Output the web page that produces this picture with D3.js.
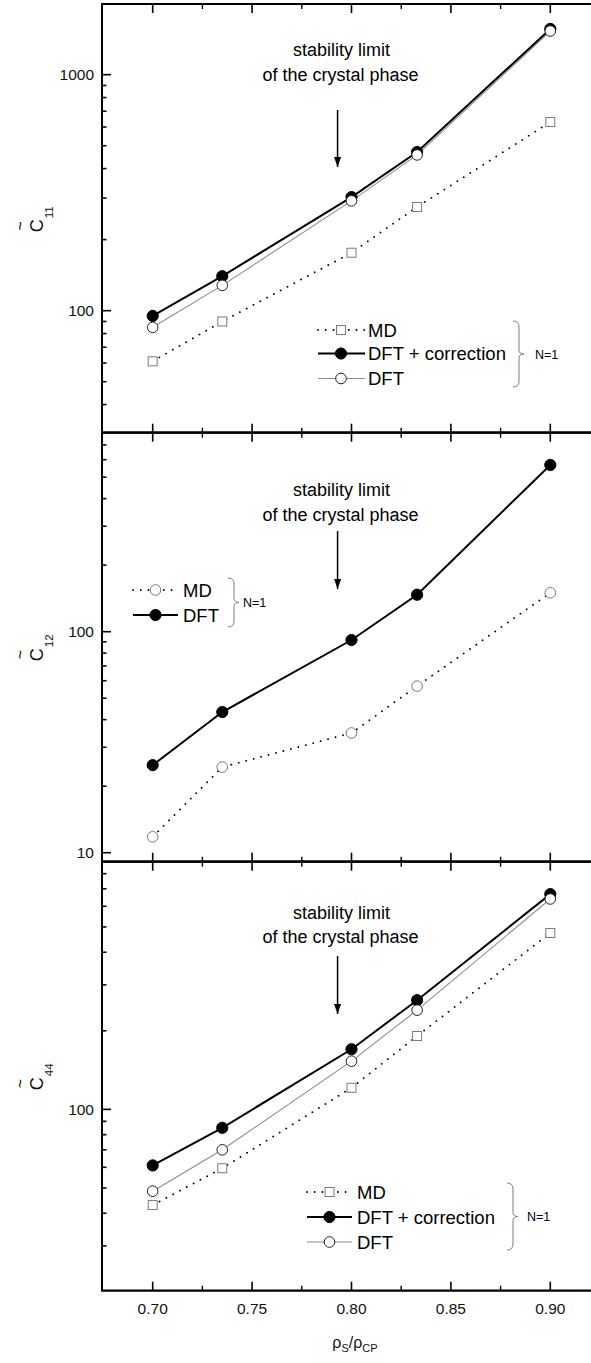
<!DOCTYPE html>
<html>
<head>
<meta charset="utf-8">
<script src="https://cdn.jsdelivr.net/npm/d3@7"></script>
<style>
  html, body { margin: 0; padding: 0; background: #fff; }
  svg { display: block; font-family: Arial, "Liberation Sans", sans-serif; }
</style>
</head>
<body>
<svg id="chart" width="591" height="1363"></svg>
<script>
// Reduced solid density rho_S / rho_CP
const densities = [0.70, 0.735, 0.80, 0.833, 0.90];

// Elastic constant C11
const c11MD      = [61, 90, 176, 275, 630];
const c11DFTcorr = [95, 140, 303, 470, 1563];
const c11DFT     = [85, 128, 292, 457, 1531];

// Elastic constant C12
const c12MD  = [11.8, 24.4, 34.8, 56.7, 150];
const c12DFT = [24.9, 43.3, 91.7, 147, 568];

// Elastic constant C44
const c44MD      = [43, 59.5, 121, 191, 474];
const c44DFTcorr = [61, 85, 170, 262, 668];
const c44DFT     = [48.6, 70, 153, 240, 640];

// Axis tick labels
const xTickLabels = ["0.70", "0.75", "0.80", "0.85", "0.90"];
const c11TickLabels = ["100", "1000"];
const c12TickLabels = ["10", "100"];
const c44TickLabels = ["100"];

// Density of the stability limit of the crystal phase
const stabilityLimit = 0.793;

const svg = d3.select("#chart");

const left = 102, right = 600;
const x = d3.scaleLinear().domain([0.6745, 0.925]).range([left, right]);

const lineGen = (xs, ys, yScale) =>
  d3.line().x((d, i) => x(xs[i])).y(d => yScale(d))(ys);

const GREY = "#7a7a7a";

// Marker drawing helpers
function marker(g, kind, cx, cy) {
  if (kind === "square") {
    g.append("rect").attr("x", cx - 4.5).attr("y", cy - 4.5)
      .attr("width", 9).attr("height", 9)
      .attr("fill", "#fff").attr("stroke", GREY).attr("stroke-width", 1);
  } else if (kind === "filled") {
    g.append("circle").attr("cx", cx).attr("cy", cy).attr("r", 5.6)
      .attr("fill", "#000").attr("stroke", "#000");
  } else if (kind === "open") {
    g.append("circle").attr("cx", cx).attr("cy", cy).attr("r", 5.3)
      .attr("fill", "#fff").attr("stroke", "#222").attr("stroke-width", 1);
  } else if (kind === "openGrey") {
    g.append("circle").attr("cx", cx).attr("cy", cy).attr("r", 5.3)
      .attr("fill", "#fff").attr("stroke", GREY).attr("stroke-width", 1);
  }
}

const lineStyles = {
  dotted: { stroke: "#000", width: 1.8, dash: "0.1,7.6", cap: "round" },
  solid:  { stroke: "#000", width: 2, dash: null, cap: "butt" },
  grey:   { stroke: "#8c8c8c", width: 1.1, dash: null, cap: "butt" }
};

function styleLine(sel, st) {
  sel.attr("fill", "none").attr("stroke", st.stroke)
    .attr("stroke-width", st.width).attr("stroke-linecap", st.cap);
  if (st.dash) sel.attr("stroke-dasharray", st.dash);
  return sel;
}

// Curly brace opening to the left, tip pointing right
function bracePath(bx, y1, y2, w) {
  const ym = (y1 + y2) / 2;
  return `M${bx},${y1} Q${bx + w},${y1} ${bx + w},${y1 + w} L${bx + w},${ym - 4}` +
    ` Q${bx + w},${ym} ${bx + w + 5},${ym} Q${bx + w},${ym} ${bx + w},${ym + 4}` +
    ` L${bx + w},${y2 - w} Q${bx + w},${y2} ${bx},${y2}`;
}

const panels = [
  {
    top: 4, bottom: 432.7, domain: [30.4, 1993], ticks: [100, 1000], tickLabels: c11TickLabels,
    sub: "11",
    series: [
      { values: c11MD, line: "dotted", mark: "square", name: "MD" },
      { values: c11DFTcorr, line: "solid", mark: "filled", name: "DFT + correction" },
      { values: c11DFT, line: "grey", mark: "open", name: "DFT" }
    ],
    lineOrder: [0, 2, 1],
    legend: { x0: 318, x1: 365, mx: 341, tx: 368, ys: [330, 353.5, 378.5], brace: [513, 321, 387], nx: 535 },
    note: { y1: 56, y2: 81, a0: 110, a1: 167 }
  },
  {
    top: 432.7, bottom: 861.7, domain: [9.105, 795], ticks: [10, 100], tickLabels: c12TickLabels,
    sub: "12",
    series: [
      { values: c12MD, line: "dotted", mark: "openGrey", name: "MD" },
      { values: c12DFT, line: "solid", mark: "filled", name: "DFT" }
    ],
    lineOrder: [0, 1],
    legend: { x0: 133, x1: 178, mx: 155.5, tx: 183, ys: [590, 615], brace: [228, 578, 627], nx: 243 },
    note: { y1: 496, y2: 521, a0: 531, a1: 589 }
  },
  {
    top: 861.7, bottom: 1290.7, domain: [20.2, 889], ticks: [100], tickLabels: c44TickLabels,
    sub: "44",
    series: [
      { values: c44MD, line: "dotted", mark: "square", name: "MD" },
      { values: c44DFTcorr, line: "solid", mark: "filled", name: "DFT + correction" },
      { values: c44DFT, line: "grey", mark: "open", name: "DFT" }
    ],
    lineOrder: [0, 2, 1],
    legend: { x0: 307, x1: 352, mx: 329.5, tx: 357, ys: [1192, 1217, 1242], brace: [507, 1183, 1250], nx: 527 },
    note: { y1: 919, y2: 943, a0: 956, a1: 1014 }
  }
];

// Arrowhead definition
svg.append("defs").append("marker")
  .attr("id", "head").attr("viewBox", "0 0 10 10")
  .attr("refX", 10).attr("refY", 5)
  .attr("markerWidth", 10).attr("markerHeight", 10)
  .attr("markerUnits", "userSpaceOnUse").attr("orient", "auto")
  .append("path").attr("d", "M0,1.5 L10,5 L0,8.5 Z").attr("fill", "#000");

panels.forEach(p => {
  const y = d3.scaleLog().domain(p.domain).range([p.bottom, p.top]);
  const g = svg.append("g");

  // Minor and major y ticks (inward)
  const [lo, hi] = p.domain;
  const minor = [];
  for (let dec = Math.floor(Math.log10(lo)); dec <= Math.ceil(Math.log10(hi)); dec++) {
    for (let k = 1; k <= 9; k++) {
      const v = k * Math.pow(10, dec);
      if (v >= lo && v <= hi && k !== 1) minor.push(v);
    }
  }
  g.selectAll(".ymin").data(minor).join("line")
    .attr("x1", left).attr("x2", left + 4.5)
    .attr("y1", d => y(d)).attr("y2", d => y(d))
    .attr("stroke", "#000").attr("stroke-width", 1.6);
  g.selectAll(".ymaj").data(p.ticks).join("line")
    .attr("x1", left).attr("x2", left + 9)
    .attr("y1", d => y(d)).attr("y2", d => y(d))
    .attr("stroke", "#000").attr("stroke-width", 1.6);
  g.selectAll(".ylab").data(p.ticks).join("text")
    .attr("x", left - 8).attr("y", d => y(d) + 5.5)
    .attr("text-anchor", "end").attr("font-size", 15.5).attr("fill", "#111")
    .text((d, i) => p.tickLabels[i]);

  // X ticks on top and bottom of each panel (inward)
  const xMajor = [0.70, 0.75, 0.80, 0.85, 0.90];
  const xMinor = [0.725, 0.775, 0.825, 0.875, 0.925].filter(v => x(v) < 591);
  [[p.top, 1], [p.bottom, -1]].forEach(([yy, dir]) => {
    g.selectAll(null).data(xMajor).join("line")
      .attr("x1", d => x(d)).attr("x2", d => x(d))
      .attr("y1", yy).attr("y2", yy + dir * 9)
      .attr("stroke", "#000").attr("stroke-width", 1.6);
    g.selectAll(null).data(xMinor).join("line")
      .attr("x1", d => x(d)).attr("x2", d => x(d))
      .attr("y1", yy).attr("y2", yy + dir * 5)
      .attr("stroke", "#000").attr("stroke-width", 1.4);
  });

  // Frame
  g.append("line").attr("x1", left).attr("x2", left).attr("y1", p.top).attr("y2", p.bottom)
    .attr("stroke", "#000").attr("stroke-width", 2);
  [p.top, p.bottom].forEach(yy =>
    g.append("line").attr("x1", left - 1).attr("x2", 591).attr("y1", yy).attr("y2", yy)
      .attr("stroke", "#000").attr("stroke-width", 2.2));

  // Y axis label: C with tilde and subscript, rotated
  const cy = (p.top + p.bottom) / 2;
  const lab = g.append("g").attr("transform", `translate(43,${cy + 14}) rotate(-90)`);
  const t = lab.append("text").attr("font-size", 18).attr("fill", "#111");
  t.append("tspan").text("C");
  t.append("tspan").attr("font-size", 11.5).attr("dy", 10).attr("dx", 1).text(p.sub);
  lab.append("text").attr("x", 6.5).attr("y", -17).attr("text-anchor", "middle")
    .attr("font-size", 16).attr("fill", "#111").text("~");

  // Data lines
  p.lineOrder.forEach(i => {
    const s = p.series[i];
    styleLine(g.append("path").attr("d", lineGen(densities, s.values, y)), lineStyles[s.line]);
  });
  // Data markers
  p.series.forEach(s => {
    s.values.forEach((v, i) => marker(g, s.mark, x(densities[i]), y(v)));
  });

  // Legend
  const L = p.legend;
  p.series.forEach((s, i) => {
    const yy = L.ys[i];
    styleLine(g.append("line").attr("x1", L.x0).attr("x2", L.x1).attr("y1", yy).attr("y2", yy),
      lineStyles[s.line]);
    marker(g, s.mark === "open" ? "open" : s.mark, L.mx, yy);
    g.append("text").attr("x", L.tx).attr("y", yy + 6.5)
      .attr("font-size", 18.5).attr("fill", "#000").text(s.name);
  });
  g.append("path").attr("d", bracePath(L.brace[0], L.brace[1], L.brace[2], 6))
    .attr("fill", "none").attr("stroke", GREY).attr("stroke-width", 1);
  g.append("text").attr("x", L.nx).attr("y", (L.brace[1] + L.brace[2]) / 2 + 4.5)
    .attr("font-size", 12.5).attr("fill", "#000").text("N=1");

  // Stability limit annotation
  const ax = x(stabilityLimit);
  g.append("text").attr("x", ax + 4).attr("y", p.note.y1).attr("text-anchor", "middle")
    .attr("font-size", 18).attr("fill", "#000").text("stability limit");
  g.append("text").attr("x", ax + 3).attr("y", p.note.y2).attr("text-anchor", "middle")
    .attr("font-size", 18).attr("fill", "#000").text("of the crystal phase");
  g.append("line").attr("x1", ax).attr("x2", ax).attr("y1", p.note.a0).attr("y2", p.note.a1)
    .attr("stroke", "#000").attr("stroke-width", 1.5).attr("marker-end", "url(#head)");
});

// X axis tick labels and title
const xTickVals = [0.70, 0.75, 0.80, 0.85, 0.90];
svg.selectAll(".xlab").data(xTickVals).join("text")
  .attr("x", d => x(d)).attr("y", 1314)
  .attr("text-anchor", "middle").attr("font-size", 15.5).attr("fill", "#111")
  .text((d, i) => xTickLabels[i]);

const xt = svg.append("text").attr("x", 355).attr("y", 1348)
  .attr("text-anchor", "middle").attr("font-size", 16).attr("fill", "#111");
xt.append("tspan").text("ρ");
xt.append("tspan").attr("font-size", 11).attr("dy", 4).text("S");
xt.append("tspan").attr("dy", -4).text("/ρ");
xt.append("tspan").attr("font-size", 11).attr("dy", 4).text("CP");
</script>
</body>
</html>
